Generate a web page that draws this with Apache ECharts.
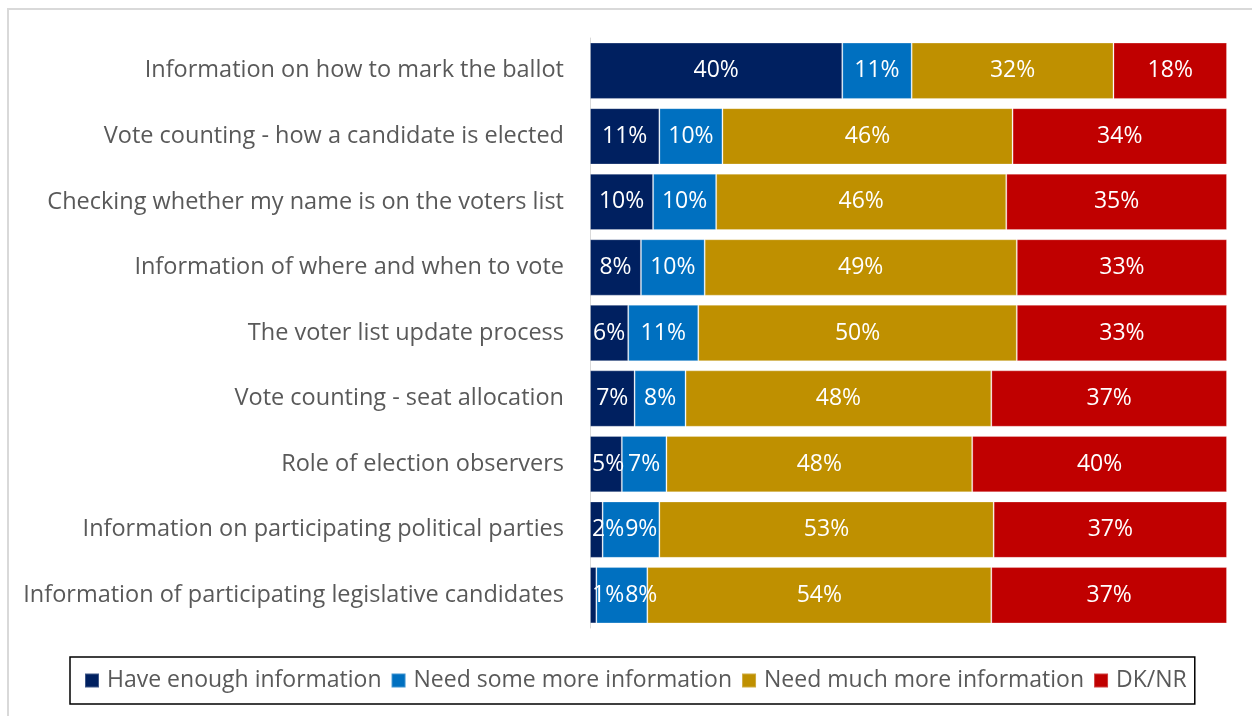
<!DOCTYPE html>
<html>
<head>
<meta charset="utf-8">
<script src="https://cdn.jsdelivr.net/npm/echarts@6/dist/echarts.min.js"></script>
<style>
  html, body { margin: 0; padding: 0; background: #ffffff; }
  #chart { width: 1252px; height: 716px; }
</style>
</head>
<body>
<div id="chart"></div>
<script>
// Survey topics, listed top to bottom
const categories = [
  'Information on how to mark the ballot',
  'Vote counting - how a candidate is elected',
  'Checking whether my name is on the voters list',
  'Information of where and when to vote',
  'The voter list update process',
  'Vote counting - seat allocation',
  'Role of election observers',
  'Information on participating political parties',
  'Information of participating legislative candidates'
];

// Response shares (%), as labelled
const haveEnough = [40, 11, 10, 8, 6, 7, 5, 2, 1];
const needSome   = [11, 10, 10, 10, 11, 8, 7, 9, 8];
const needMuch   = [32, 46, 46, 49, 50, 48, 48, 53, 54];
const dkNr       = [18, 34, 35, 33, 33, 37, 40, 37, 37];

const seriesNames = [
  'Have enough information',
  'Need some more information',
  'Need much more information',
  'DK/NR'
];
const seriesColors = ['#002060', '#0070C0', '#BF9000', '#C00000'];
const seriesValues = [haveEnough, needSome, needMuch, dkNr];

// 100% stacked: each row is scaled by its own total
const rowTotals = categories.map((_, i) =>
  seriesValues.reduce((s, arr) => s + arr[i], 0));

const FONT = '"Open Sans"';
const TEXT_GRAY = '#595959';
const GRID_LEFT = 590;

// right edge of the last placed label in each row, per series
const labelRight = seriesValues.map(() => ({}));

// keep labels of thin segments inside the plot and clear of the label before them
function placeLabel(p) {
  const r = p.labelRect;
  const s = p.seriesIndex;
  let minX = GRID_LEFT + 2;
  if (s > 0 && labelRight[s - 1][p.dataIndex] != null) {
    minX = Math.max(minX, labelRight[s - 1][p.dataIndex] + 1);
  }
  const dx = r.x < minX ? minX - r.x : 0;
  labelRight[s][p.dataIndex] = r.x + dx + r.width;
  return dx ? { dx: dx } : {};
}

const series = seriesValues.map((vals, k) => ({
  name: seriesNames[k],
  type: 'bar',
  stack: 'total',
  barCategoryGap: '14%',
  // earlier segments on top so their labels are not hidden by the next segment
  z: 10 - k,
  itemStyle: {
    color: seriesColors[k],
    borderColor: 'rgba(255,255,255,0.25)',
    borderWidth: 1
  },
  label: {
    show: true,
    position: 'inside',
    color: '#ffffff',
    fontFamily: FONT,
    fontSize: 23,
    padding: [4, 0, 0, 0],
    formatter: p => vals[p.dataIndex] + '%'
  },
  labelLayout: placeLabel,
  emphasis: { disabled: true },
  data: vals.map((v, i) => v / rowTotals[i] * 100)
}));

const chart = echarts.init(document.getElementById('chart'), null, { renderer: 'canvas' });
chart.setOption({
  animation: false,
  backgroundColor: '#ffffff',
  textStyle: { fontFamily: FONT },
  grid: { left: GRID_LEFT, right: 25, top: 38, bottom: 88, containLabel: false },
  xAxis: {
    type: 'value',
    min: 0,
    max: 100,
    show: false
  },
  yAxis: {
    type: 'category',
    inverse: true,
    data: categories,
    axisLine: { show: true, lineStyle: { color: '#d9d9d9', width: 1 } },
    axisTick: { show: false },
    axisLabel: {
      color: TEXT_GRAY,
      fontFamily: FONT,
      fontSize: 23.5,
      margin: 26,
      padding: [5, 0, 0, 0]
    }
  },
  legend: {
    data: seriesNames,
    left: 70,
    top: 657,
    padding: [12, 8, 12, 14],
    itemGap: 9,
    itemWidth: 14,
    itemHeight: 14,
    icon: 'rect',
    borderColor: '#000000',
    borderWidth: 1.5,
    textStyle: { color: TEXT_GRAY, fontFamily: FONT, fontSize: 23, padding: [0, 0, 0, 3] },
    selectedMode: false
  },
  graphic: [{
    type: 'rect',
    shape: { x: 8, y: 9, width: 1300, height: 760 },
    style: { fill: null, stroke: '#d9d9d9', lineWidth: 2 },
    silent: true,
    z: -10
  }],
  series: series
});
</script>
</body>
</html>
